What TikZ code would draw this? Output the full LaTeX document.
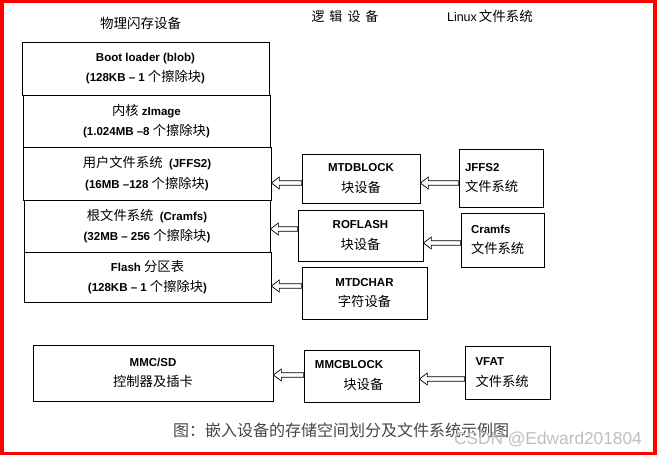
\documentclass[tikz,border=0pt]{standalone}
\usepackage{fontspec}
\setmainfont{Liberation Sans}
\newfontfamily\cjk{Noto Sans CJK SC}
\usetikzlibrary{calc}
\newcommand\zh[1]{{\cjk\mdseries\fontsize{13.3}{20.5}\selectfont #1}}
\begin{document}
\begin{tikzpicture}[x=1pt,y=-1pt,
  box/.style={draw, line width=0.75pt, inner sep=0pt, align=center,
    font=\fontsize{11.5}{20.5}\selectfont\bfseries},
  txt/.style={inner sep=0pt, font=\fontsize{11.5}{20.5}\selectfont\bfseries},
  hollow/.style={draw, line width=0.7pt, fill=white, to path={
    let \p1=(\tikztostart), \p2=(\tikztotarget) in
    (\x1,\y1+2.2pt) -- (\x2+8pt,\y1+2.2pt) -- (\x2+8pt,\y1+6pt) -- (\x2,\y1)
    -- (\x2+8pt,\y1-6pt) -- (\x2+8pt,\y1-2.2pt) -- (\x1,\y1-2.2pt) -- cycle}},
]
\useasboundingbox (0,0) rectangle (658,456);
\fill[white] (0,0) rectangle (658,456);
\draw[red, line width=3.5pt] (1.75,1.5) rectangle (654.8,453.5);

% headings
\node[inner sep=0pt] (h1) at (140.5,23) {{\cjk\fontsize{13.5}{16}\selectfont 物理闪存设备}};
\node[inner sep=0pt] (h2) at (345,17) {{\cjk\fontsize{13}{16}\selectfont 逻\hspace{5pt}辑\hspace{5pt}设\hspace{5pt}备}};
\node[inner sep=0pt] (h3) at (490,16) {{\fontsize{12.5}{16}\selectfont Linux}\hspace{2pt}{\cjk\fontsize{13.5}{16}\selectfont 文件系统}};

% physical flash partitions
\node[box, minimum width=247, minimum height=53] (p1) at (145.5,68.5)
  {Boot loader (blob)\\(128KB -- 1 \zh{个擦除块})};
\node[box, minimum width=247, minimum height=52] (p2) at (146.5,121)
  {\zh{内核} zImage\\(1.024MB --8 \zh{个擦除块})};
\node[box, minimum width=248, minimum height=53] (p3) at (147,173.5)
  {\zh{用户文件系统}\ \ (JFFS2)\\(16MB --128 \zh{个擦除块})};
\node[box, minimum width=246, minimum height=52] (p4) at (147,226)
  {\zh{根文件系统}\ \ (Cramfs)\\(32MB -- 256 \zh{个擦除块})};
\node[box, minimum width=247, minimum height=50] (p5) at (147.5,277)
  {Flash \zh{分区表}\\(128KB -- 1 \zh{个擦除块})};
\draw[line width=1.5pt] (p4.south west) -- (p4.south east);
\node[box, minimum width=240, minimum height=56] (mmc) at (153,373)
  {MMC/SD\\\zh{控制器及插卡}};

% logical devices
\node[box, minimum width=118, minimum height=49] (mtdb) at (361,178.5)
  {MTDBLOCK\\\zh{块设备}};
\node[box, minimum width=125, minimum height=51] (rof) at (360.5,235.5)
  {ROFLASH\\\zh{块设备}};
\node[box, minimum width=125, minimum height=52] (mtdc) at (364.5,293)
  {MTDCHAR\\\zh{字符设备}};
\node[box, minimum width=115, minimum height=52] (mmcb) at (361.5,376) {};
\node[txt, align=right, anchor=east] (mmcbt) at (383.5,375.5)
  {MMCBLOCK\\\zh{块设备}};

% Linux file systems
\node[box, minimum width=84, minimum height=58, text width=72, align=left] (fsj) at (501,178)
  {JFFS2\\\zh{文件系统}};
\node[box, minimum width=83, minimum height=54, text width=63, align=left] (fsc) at (502.5,240)
  {Cramfs\\\zh{文件系统}};
\node[box, minimum width=85, minimum height=53, text width=64, align=left] (vfat) at (507.5,372.5)
  {VFAT\\\zh{文件系统}};

% hollow arrows
\draw[hollow] (fsj.west |- 0,183) to (mtdb.east);
\draw[hollow] (mtdb.west |- 0,183) to (p3.east);
\draw[hollow] (fsc.west |- 0,243) to (rof.east);
\draw[hollow] (rof.west |- 0,229) to (p4.east);
\draw[hollow] (mtdc.west |- 0,286) to (p5.east);
\draw[hollow] (mmcb.west |- 0,375) to (mmc.east);
\draw[hollow] (vfat.west |- 0,379) to (mmcb.east);

% caption and watermark
\node[inner sep=0pt, text=black!72] (cap) at (341,430)
  {{\cjk\fontsize{16}{18}\selectfont 图：嵌入设备的存储空间划分及文件系统示例图}};
\node[inner sep=0pt, text=black!25] (wm) at (548,439)
  {\fontsize{17.3}{19}\selectfont CSDN @Edward201804};
\end{tikzpicture}
\end{document}
